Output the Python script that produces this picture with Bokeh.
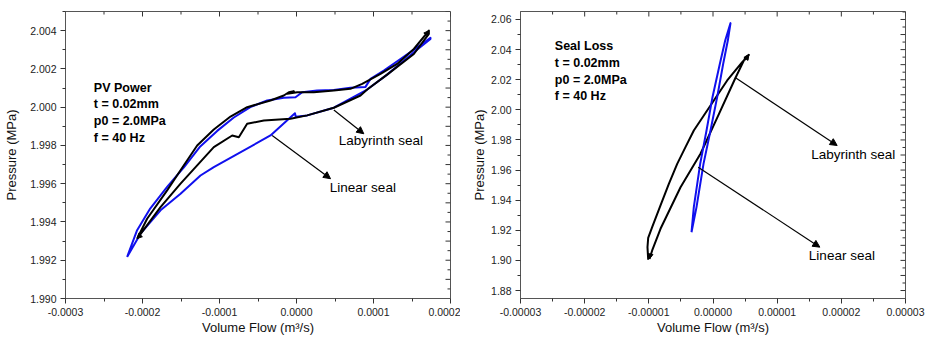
import math
from bokeh.plotting import figure
from bokeh.layouts import row
from bokeh.models import Range1d, FixedTicker, PrintfTickFormatter, Arrow, NormalHead
from bokeh.core.properties import value
from bokeh.embed import file_html
from bokeh.resources import INLINE

FONT = "Liberation Sans"

# ---------------- data: PV Power (left panel) ----------------
pv_lab_x = [-0.000207, -0.000194, -0.000168, -0.0001506, -0.0001290, -0.0001074, -0.0000857, -0.0000641,
            -0.0000338, -0.0000165, -0.0000100, -0.0000035, -0.0000120, 0.0000009, 0.0000225, 0.0000485,
            0.0000700, 0.0000853, 0.0001091, 0.0001307, 0.0001524, 0.0001719,
            0.0001719, 0.0001524, 0.0001177, 0.0000918, 0.0000831, 0.0000485, 0.0000139, -0.0000078,
            -0.0000424, -0.0000641, -0.0000749, -0.0000835, -0.0001074, -0.0001506, -0.0001766, -0.000207]
pv_lab_y = [1.99313, 1.99417, 1.99565, 1.99670, 1.99800, 1.99883, 1.99951, 2.00000,
            2.00035, 2.00061, 2.00078, 2.00083, 2.00070, 2.00078, 2.00078, 2.00087,
            2.00096, 2.00122, 2.00174, 2.00226, 2.00304, 2.00400,
            2.00383, 2.00278, 2.00170, 2.00092, 2.00061, 1.99997, 1.99957, 1.99939,
            1.99930, 1.99913, 1.99843, 1.99852, 1.99791, 1.99600, 1.99478, 1.99313]

pv_lin_x = [-0.000220, -0.000207, -0.000190, -0.000168, -0.000146, -0.000125, -0.000103, -0.0000814,
            -0.0000600, -0.0000381, -0.0000165, -0.0000013, 0.0000074, 0.0000268, 0.0000485, 0.0000700,
            0.0000896, 0.0000961, 0.0001134, 0.0001350, 0.0001567, 0.0001740,
            0.0001740, 0.0001524, 0.0001177, 0.0000918, 0.0000485, 0.0000139, -0.0000010, -0.0000020,
            -0.0000338, -0.0001074, -0.0001247, -0.0001506, -0.0001766, -0.0002026, -0.000220]
pv_lin_y = [1.99217, 1.99357, 1.99470, 1.99583, 1.99687, 1.99795, 1.99876, 1.99946,
            2.00000, 2.00035, 2.00049, 2.00052, 2.00078, 2.00087, 2.00090, 2.00101,
            2.00106, 2.00148, 2.00191, 2.00252, 2.00313, 2.00362,
            2.00357, 2.00287, 2.00170, 2.00092, 1.99997, 1.99957, 1.99950, 1.99968,
            1.99852, 1.99687, 1.99643, 1.99548, 1.99461, 1.99339, 1.99217]

pv_xticks = [-0.0003, -0.0002, -0.0001, 0.0, 0.0001, 0.0002]
pv_yticks = [1.990, 1.992, 1.994, 1.996, 1.998, 2.000, 2.002, 2.004]

# ---------------- data: Seal Loss (right panel) ----------------
sl_lab_x = [-1.010e-5, -1.021e-5, -1.010e-5, -0.948e-5, -0.818e-5, -0.688e-5, -0.558e-5, -0.429e-5,
            -0.299e-5, -0.143e-5, 0.013e-5, 0.221e-5, 0.455e-5, 0.559e-5,
            0.507e-5, 0.351e-5, 0.070e-5, -0.195e-5, -0.506e-5, -0.818e-5, -0.948e-5, -0.990e-5]
sl_lab_y = [1.9004, 1.9088, 1.9150, 1.9221, 1.9365, 1.9508, 1.9641, 1.9752,
            1.9863, 1.9962, 2.0062, 2.0195, 2.0317, 2.0365,
            2.0350, 2.0213, 1.9951, 1.9708, 1.9486, 1.9210, 1.9066, 1.9010]

sl_lin_x = [-3.35e-6, -2.99e-6, -2.00e-6, -1.01e-6, -0.08e-6, 1.07e-6, 1.90e-6, 2.73e-6,
            2.31e-6, 1.59e-6, 0.65e-6, -0.39e-6, -1.48e-6, -2.57e-6, -3.35e-6]
sl_lin_y = [1.9187, 1.9354, 1.9641, 1.9863, 2.0084, 2.0306, 2.0460, 2.0576,
            2.0460, 2.0306, 2.0084, 1.9863, 1.9641, 1.9354, 1.9187]

sl_xticks = [-0.00003, -0.00002, -0.00001, 0.0, 0.00001, 0.00002, 0.00003]
sl_yticks = [1.88, 1.90, 1.92, 1.94, 1.96, 1.98, 2.00, 2.02, 2.04, 2.06]

# ---------------- annotation texts ----------------
pv_notes = ["PV Power", "t = 0.02mm", "p0 = 2.0MPa", "f = 40 Hz"]
sl_notes = ["Seal Loss", "t = 0.02mm", "p0 = 2.0MPa", "f = 40 Hz"]
curve_labels = ["Labyrinth seal", "Linear seal"]

# annotation placement (data coordinates of each panel)
pv_note_x = [-0.0002632] * 4
pv_note_y = [2.00101, 2.00014, 1.99927, 1.99840]
pv_lab_pos = ([0.0000550, 0.0000433], [1.99826, 1.99579])
pv_arrows = [(0.0000485, 1.99985, 0.0000874, 1.99861), (-0.0000316, 1.99852, 0.0000442, 1.99626)]
pv_heads = [(0.0001680, 2.00380, 0.0001719, 2.00400), (-0.000203, 1.99330, -0.000207, 1.99313)]
sl_note_x = [-2.465e-5] * 4
sl_note_y = [2.0421, 2.0310, 2.0200, 2.0089]
sl_lab_pos = ([1.530e-5, 1.494e-5], [1.9701, 1.9032])
sl_arrows = [(3.51e-6, 2.0213, 1.935e-5, 1.9763), (-2.31e-6, 1.9619, 1.665e-5, 1.9088)]
sl_heads = [(0.50e-5, 2.0330, 0.559e-5, 2.0365), (-0.975e-5, 1.9040, -0.990e-5, 1.9010)]

AXIS_COLOR = "#555555"
TICK_COLOR = "#333333"


def minors(ticks):
    step = ticks[1] - ticks[0]
    return [t + step / 2 for t in ticks]


def halves(ticks):
    step = ticks[1] - ticks[0]
    out = []
    for t in ticks:
        out.append(t)
        out.append(t + step / 2)
    return out


def style_axis(ax, label_standoff, title_standoff):
    ax.axis_line_color = AXIS_COLOR
    ax.major_tick_line_color = TICK_COLOR
    ax.minor_tick_line_color = TICK_COLOR
    ax.major_tick_in = 0
    ax.major_tick_out = 5
    ax.minor_tick_in = 0
    ax.minor_tick_out = 3
    ax.major_label_text_font = FONT
    ax.major_label_text_font_size = "10.5px"
    ax.major_label_text_color = "#222222"
    ax.major_label_standoff = label_standoff
    ax.axis_label_text_font = FONT
    ax.axis_label_text_font_style = "normal"
    ax.axis_label_text_font_size = "13px"
    ax.axis_label_text_color = "#111111"
    ax.axis_label_standoff = title_standoff


def make_panel(width, xr, yr, bl, br, xticks, yticks, xfmt, yfmt, ytitle_standoff):
    # both panels share the same top/bottom borders (the row aligns the frames)
    p = figure(width=width, height=338, x_range=Range1d(*xr), y_range=Range1d(*yr),
               output_backend="svg", toolbar_location=None,
               min_border_left=bl, min_border_right=br, min_border_top=11, min_border_bottom=40)
    p.grid.visible = False
    p.outline_line_color = AXIS_COLOR
    p.background_fill_color = "white"
    p.border_fill_color = "white"
    xa = p.xaxis[0]
    ya = p.yaxis[0]
    xa.ticker = FixedTicker(ticks=xticks, minor_ticks=minors(xticks))
    ya.ticker = FixedTicker(ticks=yticks, minor_ticks=minors(yticks))
    xa.formatter = PrintfTickFormatter(format=xfmt)
    ya.formatter = PrintfTickFormatter(format=yfmt)
    xa.axis_label = "Volume Flow (m³/s)"
    ya.axis_label = "Pressure (MPa)"
    style_axis(xa, 4, 1)
    style_axis(ya, 4, ytitle_standoff)
    # mirrored inward ticks on the top and right frame edges
    xm = minors(xticks)
    p.ray(x=xticks, y=[yr[1]] * len(xticks), length=5, length_units="screen",
          angle=-math.pi / 2, line_color=TICK_COLOR, line_width=1)
    p.ray(x=xm, y=[yr[1]] * len(xm), length=3, length_units="screen",
          angle=-math.pi / 2, line_color=TICK_COLOR, line_width=1)
    yh = halves(yticks)
    yq = minors(yh)
    p.ray(x=[xr[1]] * len(yh), y=yh, length=5, length_units="screen",
          angle=math.pi, line_color=TICK_COLOR, line_width=1)
    p.ray(x=[xr[1]] * len(yq), y=yq, length=3, length_units="screen",
          angle=math.pi, line_color=TICK_COLOR, line_width=1)
    return p


def decorate(p, note_x, note_y, notes, lab_pos, arrows, heads):
    p.text(x=note_x, y=note_y, text=notes, text_font=value(FONT), text_font_style="bold",
           text_font_size="12.5px", text_baseline="middle", text_align="left", text_color="black")
    p.text(x=lab_pos[0], y=lab_pos[1], text=curve_labels, text_font=value(FONT),
           text_font_size="13.5px", text_baseline="middle", text_align="left", text_color="black")
    for (xs, ys, xe, ye) in arrows:
        p.add_layout(Arrow(end=NormalHead(size=7, fill_color="black", line_color="black"),
                           x_start=xs, y_start=ys, x_end=xe, y_end=ye,
                           line_color="black", line_width=1.2))
    for (xs, ys, xe, ye) in heads:
        p.add_layout(Arrow(end=NormalHead(size=5, fill_color="black", line_color="black"),
                           x_start=xs, y_start=ys, x_end=xe, y_end=ye,
                           line_color="black", line_width=1.5))


# ---------------- left panel ----------------
p1 = make_panel(460, (-0.0003, 0.0002), (1.990, 2.005), 65, 10,
                pv_xticks, pv_yticks, "%.4f", "%.3f", 8)
p1.line(pv_lin_x, pv_lin_y, line_color="#1010ee", line_width=2, line_join="round")
p1.line(pv_lab_x, pv_lab_y, line_color="black", line_width=2, line_join="round")
decorate(p1, pv_note_x, pv_note_y, pv_notes, pv_lab_pos, pv_arrows, pv_heads)

# ---------------- right panel ----------------
p2 = make_panel(470, (-0.00003, 0.00003), (1.8747, 2.0653), 60, 25,
                sl_xticks, sl_yticks, "%.5f", "%.2f", 1)
p2.line(sl_lab_x, sl_lab_y, line_color="black", line_width=2, line_join="round")
p2.line(sl_lin_x, sl_lin_y, line_color="#1010ee", line_width=2, line_join="round")
decorate(p2, sl_note_x, sl_note_y, sl_notes, sl_lab_pos, sl_arrows, sl_heads)

layout = row(p1, p2)
open("out.html", "w").write(file_html(layout, INLINE))
